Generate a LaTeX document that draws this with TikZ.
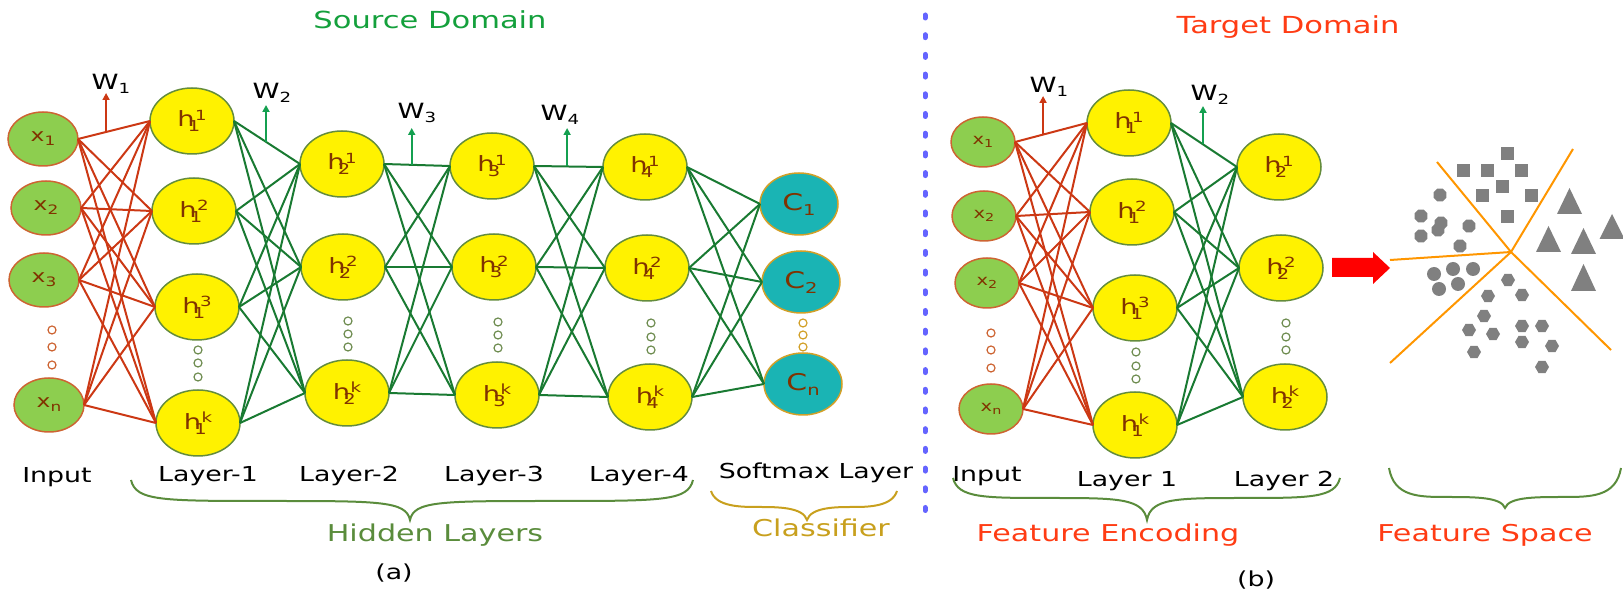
\documentclass[tikz,border=0pt]{standalone}
\usepackage{fontspec}
\setmainfont{DejaVu Sans}[FakeStretch=1.3]
\usetikzlibrary{shapes.geometric,arrows.meta,calc}

\definecolor{xfill}{RGB}{141,206,79}
\definecolor{xborder}{RGB}{205,100,50}
\definecolor{hborder}{RGB}{100,140,60}
\definecolor{cfill}{RGB}{26,180,180}
\definecolor{cborder}{RGB}{210,160,40}
\definecolor{lbl}{RGB}{128,51,0}
\definecolor{redl}{RGB}{204,56,20}
\definecolor{greenl}{RGB}{25,122,50}
\definecolor{wgreen}{RGB}{20,160,80}
\definecolor{hdot}{RGB}{110,140,80}
\definecolor{srcgreen}{RGB}{20,160,60}
\definecolor{tgtred}{RGB}{255,60,20}
\definecolor{olive}{RGB}{90,140,60}
\definecolor{gold}{RGB}{200,160,30}
\definecolor{bluedot}{RGB}{100,100,255}
\definecolor{orangel}{RGB}{255,150,0}
\definecolor{shp}{RGB}{128,128,128}

% index helpers
\newcommand\idxf[1]{\fontsize{#1}{#1}\selectfont}
\newcommand\hlab[2]{h\kern-3.3pt\rlap{\raisebox{-2.5pt}{\idxf{7.5}#1}}\kern3.6pt\raisebox{3.4pt}{\idxf{7}#2}}
\newcommand\lowi[3]{#1\raisebox{-#3}{\idxf{#2}#1\kern-\wd0}}
\newcommand\sbs[3]{\raisebox{-#3}{\idxf{#2}#1}}

% curly brace: colour, left x, right x, tip x, end y, middle y, tip y
\newcommand\cbrace[7]{%
  \draw[#1,line width=1pt] (#2,#5) .. controls (#2+5,#6) and (#2+30,#6) .. ({(#2+#4)/2},#6)
    .. controls (#4-30,#6) and (#4-4,#6) .. (#4,#7)
    .. controls (#4+4,#6) and (#4+30,#6) .. ({(#4+#3)/2},#6)
    .. controls (#3-30,#6) and (#3-5,#6) .. (#3,#5);}

\newcommand\hexat[2]{\fill[shp] (#1,#2) +(0:7) -- +(60:7) -- +(120:7) -- +(180:7) -- +(240:7) -- +(300:7) -- cycle;}
\newcommand\octat[2]{\fill[shp] (#1,#2) +(22.5:7) -- +(67.5:7) -- +(112.5:7) -- +(157.5:7) -- +(202.5:7) -- +(247.5:7) -- +(292.5:7) -- +(337.5:7) -- cycle;}
\newcommand\sqat[2]{\fill[shp] (#1-6.5,#2-6.5) rectangle (#1+6.5,#2+6.5);}
\newcommand\circat[2]{\fill[shp] (#1,#2) circle[radius=7];}
\newcommand\triat[3]{\fill[shp] (#1,#2) -- (#1+12.5,#3) -- (#1-12.5,#3) -- cycle;}

\begin{document}
\begin{tikzpicture}[x=0.5pt,y=-0.5pt,
  every node/.style={inner sep=0pt,outer sep=0pt},
  xnode/.style={ellipse,draw=xborder,fill=xfill,line width=0.75pt,minimum width=35pt,minimum height=27pt,text=lbl,font=\idxf{9}},
  xsnode/.style={xnode,minimum width=32pt,minimum height=25pt,font=\idxf{7.5}},
  hnode/.style={ellipse,draw=hborder,fill=yellow,line width=0.75pt,minimum width=42pt,minimum height=33pt,text=lbl,font=\idxf{10.5}},
  cnode/.style={ellipse,draw=cborder,fill=cfill,line width=0.75pt,minimum width=39pt,minimum height=31pt,text=lbl,font=\idxf{11.5}},
  dotc/.style={circle,draw=#1,line width=0.6pt,minimum size=4pt},
  redline/.style={draw=redl,line width=1pt},
  greenline/.style={draw=greenl,line width=1pt},
  warrow/.style={draw=#1,line width=1pt,-{Triangle[length=3.5pt,width=3.5pt]}},
  wlab/.style={font=\idxf{10.5},text=black},
  ttl/.style={font=\idxf{11.75},anchor=base},
  lay/.style={font=\idxf{10.3},anchor=base,text=black},
  grp/.style={font=\idxf{11.6},anchor=base},
]
\useasboundingbox (0,0) rectangle (1623,592);

% ---------------- source network ----------------
\node[ttl,text=srcgreen] (src) at (430,29) {Source Domain};

\node[xnode] (lx1) at (43,139) {x\sbs{1}{6.5}{2pt}};
\node[xnode] (lx2) at (46,208) {x\sbs{2}{6.5}{2pt}};
\node[xnode] (lx3) at (44,280) {x\sbs{3}{6.5}{2pt}};
\node[xnode] (lxn) at (49,405) {x\sbs{n}{6.5}{2pt}};
\foreach \y [count=\i] in {330,347,365} \node[dotc=xborder] (lxd\i) at (52,\y) {};

\node[hnode] (la1) at (192,121) {\hlab{1}{1}};
\node[hnode] (la2) at (194,211) {\hlab{1}{2}};
\node[hnode] (la3) at (197,307) {\hlab{1}{3}};
\node[hnode] (lak) at (198,423) {\hlab{1}{k}};
\foreach \y [count=\i] in {350,363,377} \node[dotc=hdot] (lad\i) at (198,\y) {};

\node[hnode] (lb1) at (342,164) {\hlab{2}{1}};
\node[hnode] (lb2) at (343,267) {\hlab{2}{2}};
\node[hnode] (lbk) at (347,393) {\hlab{2}{k}};
\foreach \y [count=\i] in {321,334,347} \node[dotc=hdot] (lbd\i) at (348,\y) {};

\node[hnode] (lc1) at (492,166) {\hlab{3}{1}};
\node[hnode] (lc2) at (494,267) {\hlab{3}{2}};
\node[hnode] (lck) at (497,395) {\hlab{3}{k}};
\foreach \y [count=\i] in {322,335,348} \node[dotc=hdot] (lcd\i) at (498,\y) {};

\node[hnode] (ld1) at (645,167) {\hlab{4}{1}};
\node[hnode] (ld2) at (647,268) {\hlab{4}{2}};
\node[hnode] (ldk) at (650,397) {\hlab{4}{k}};
\foreach \y [count=\i] in {323,337,350} \node[dotc=hdot] (ldd\i) at (651,\y) {};

\node[cnode] (lo1) at (799,204) {C\sbs{1}{7.5}{2.5pt}};
\node[cnode] (lo2) at (801,282) {C\sbs{2}{7.5}{2.5pt}};
\node[cnode] (lon) at (803,384) {C\sbs{n}{7.5}{2.5pt}};
\foreach \y [count=\i] in {323,335,347} \node[dotc=cborder] (lod\i) at (803,\y) {};

\foreach \a in {lx1,lx2,lx3,lxn}
  \foreach \b in {la1,la2,la3,lak} \draw[redline] (\a.east) -- (\b.west);
\foreach \a in {la1,la2,la3,lak}
  \foreach \b in {lb1,lb2,lbk} \draw[greenline] (\a.east) -- (\b.west);
\foreach \a in {lb1,lb2,lbk}
  \foreach \b in {lc1,lc2,lck} \draw[greenline] (\a.east) -- (\b.west);
\foreach \a in {lc1,lc2,lck}
  \foreach \b in {ld1,ld2,ldk} \draw[greenline] (\a.east) -- (\b.west);
\foreach \a in {ld1,ld2,ldk}
  \foreach \b in {lo1,lo2,lon} \draw[greenline] (\a.east) -- (\b.west);

% weight arrows
\coordinate (lw1b) at ($(lx1.east)!0.39!(la1.west)$);
\coordinate (lw1t) at (106,93);
\draw[warrow=redl] (lw1b) -- (lw1b |- lw1t);
\node[wlab] (lw1) at (111,84) {W\sbs{1}{7}{2pt}};
\coordinate (lw2b) at ($(la1.east)!0.485!(lb1.west)$);
\coordinate (lw2t) at (266,105);
\draw[warrow=wgreen] (lw2b) -- (lw2b |- lw2t);
\node[wlab] (lw2) at (272,93) {W\sbs{2}{7}{2pt}};
\coordinate (lw3b) at ($(lb1.east)!0.42!(lc1.west)$);
\coordinate (lw3t) at (412,128);
\draw[warrow=wgreen] (lw3b) -- (lw3b |- lw3t);
\node[wlab] (lw3) at (417,113) {W\sbs{3}{7}{2pt}};
\coordinate (lw4b) at ($(lc1.east)!0.48!(ld1.west)$);
\coordinate (lw4t) at (567,128);
\draw[warrow=wgreen] (lw4b) -- (lw4b |- lw4t);
\node[wlab] (lw4) at (560,115) {W\sbs{4}{7}{2pt}};

% layer names and groups
\node[lay] (lin) at (57,483) {Input};
\node[lay] (ll1) at (208,482) {Layer-1};
\node[lay] (ll2) at (349,482) {Layer-2};
\node[lay] (ll3) at (494,482) {Layer-3};
\node[lay] (ll4) at (639,482) {Layer-4};
\node[lay] (lsm) at (816,479) {Softmax Layer};
\cbrace{olive}{131}{693}{410}{480}{501}{520}
\node[grp,text=olive] (hid) at (435,542) {Hidden Layers};
\cbrace{gold}{711}{897}{807}{491}{507}{520}
\node[grp,text=gold] (cls) at (821,537) {Classifier};
\node[lay] (capa) at (394,580) {(a)};

% ---------------- separator ----------------
\draw[bluedot,line width=2.5pt,line cap=round,dash pattern=on 1.5pt off 8.35pt] (925,15) -- (925,517);

% ---------------- target network ----------------
\node[ttl,text=tgtred] (tgt) at (1288,34) {Target Domain};

\node[xsnode] (rx1) at (983,142) {x\sbs{1}{5.5}{1.6pt}};
\node[xsnode] (rx2) at (984,216) {x\sbs{2}{5.5}{1.6pt}};
\node[xsnode] (rx3) at (987,283) {x\sbs{2}{5.5}{1.6pt}};
\node[xsnode] (rxn) at (991,409) {x\sbs{n}{5.5}{1.6pt}};
\foreach \y [count=\i] in {333,350,368} \node[dotc=xborder] (rxd\i) at (991,\y) {};

\node[hnode] (ra1) at (1129,123) {\hlab{1}{1}};
\node[hnode] (ra2) at (1132,212) {\hlab{1}{2}};
\node[hnode] (ra3) at (1135,308) {\hlab{1}{3}};
\node[hnode] (rak) at (1135,425) {\hlab{1}{k}};
\foreach \y [count=\i] in {352,366,379} \node[dotc=hdot] (rad\i) at (1136,\y) {};

\node[hnode] (rb1) at (1279,167) {\hlab{2}{1}};
\node[hnode] (rb2) at (1281,268) {\hlab{2}{2}};
\node[hnode] (rbk) at (1285,397) {\hlab{2}{k}};
\foreach \y [count=\i] in {323,337,350} \node[dotc=hdot] (rbd\i) at (1286,\y) {};

\foreach \a in {rx1,rx2,rx3,rxn}
  \foreach \b in {ra1,ra2,ra3,rak} \draw[redline] (\a.east) -- (\b.west);
\foreach \a in {ra1,ra2,ra3,rak}
  \foreach \b in {rb1,rb2,rbk} \draw[greenline] (\a.east) -- (\b.west);

\coordinate (rw1b) at ($(rx1.east)!0.39!(ra1.west)$);
\coordinate (rw1t) at (1043,96);
\draw[warrow=redl] (rw1b) -- (rw1b |- rw1t);
\node[wlab] (rw1) at (1049,87) {W\sbs{1}{7}{2pt}};
\coordinate (rw2b) at ($(ra1.east)!0.485!(rb1.west)$);
\coordinate (rw2t) at (1203,106);
\draw[warrow=wgreen] (rw2b) -- (rw2b |- rw2t);
\node[wlab] (rw2) at (1210,95) {W\sbs{2}{7}{2pt}};

\node[lay] (rin) at (987,482) {Input};
\node[lay] (rl1) at (1127,487) {Layer 1};
\node[lay] (rl2) at (1284,487) {Layer 2};
\cbrace{olive}{953}{1340}{1147}{478}{498}{520}
\node[grp,text=tgtred] (fenc) at (1108,542) {Feature Encoding};
\cbrace{olive}{1389}{1621}{1505}{468}{497}{508}
\node[grp,text=tgtred] (fsp) at (1485,542) {Feature Space};
\node[lay] (capb) at (1256,587) {(b)};

% ---------------- feature space ----------------
\fill[red] (1332,258) -- (1373,258) -- (1373,252) -- (1390,268) -- (1373,284) -- (1373,277) -- (1332,277) -- cycle;

\coordinate (fc) at (1511,252);
\coordinate (ftl) at (1437,162);
\coordinate (ftr) at (1573,149);
\coordinate (fl) at (1390,260);
\coordinate (fbl) at (1390,363);
\coordinate (fbr) at (1611,350);
\foreach \e in {ftl,ftr,fl,fbl,fbr} \draw[orangel,line width=1pt] (fc) -- (\e);

\sqat{1507}{154}\sqat{1463}{171}\sqat{1487}{171}\sqat{1521}{171}
\sqat{1502}{187}\sqat{1482}{196}\sqat{1531}{196}\sqat{1507}{217}

\triat{1569.5}{188}{214}\triat{1612}{214}{239}\triat{1548.5}{226}{252}
\triat{1583.5}{228}{254}\triat{1583.5}{264}{291}

\octat{1440}{195}\octat{1421}{216}\octat{1441}{223}\octat{1438}{230}
\octat{1469}{226}\octat{1421}{236}\octat{1460}{246}

\circat{1434}{274}\circat{1453}{269}\circat{1473}{269}\circat{1439}{289}\circat{1458}{284}

\hexat{1508}{280}\hexat{1488}{296}\hexat{1522}{295}\hexat{1484}{316}
\hexat{1469}{330}\hexat{1493}{334}\hexat{1522}{326}\hexat{1542}{326}
\hexat{1522}{342}\hexat{1552}{346}\hexat{1474}{352}\hexat{1542}{367}
\end{tikzpicture}
\end{document}
